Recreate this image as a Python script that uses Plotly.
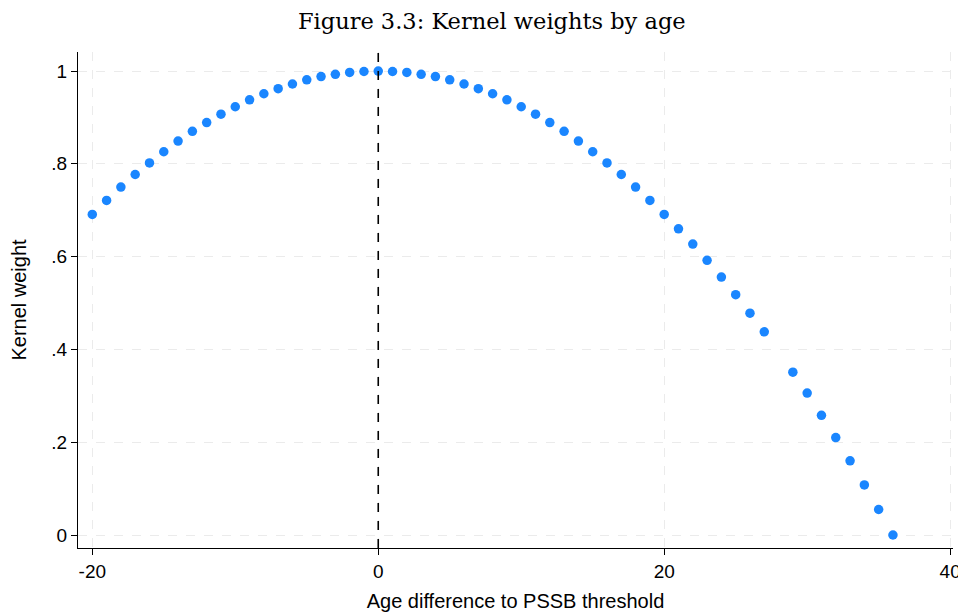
import plotly.graph_objects as go

age_diff = [-20, -19, -18, -17, -16, -15, -14, -13, -12, -11, -10, -9, -8, -7, -6, -5, -4, -3, -2, -1,
            0, 1, 2, 3, 4, 5, 6, 7, 8, 9, 10, 11, 12, 13, 14, 15, 16, 17, 18, 19, 20,
            21, 22, 23, 24, 25, 26, 27, 29, 30, 31, 32, 33, 34, 35, 36]
kernel_weight = [0.691, 0.721, 0.750, 0.777, 0.802, 0.826, 0.849, 0.870, 0.889, 0.907,
                 0.923, 0.938, 0.951, 0.962, 0.972, 0.981, 0.988, 0.993, 0.997, 0.999,
                 1.000, 0.999, 0.997, 0.993, 0.988, 0.981, 0.972, 0.962, 0.951, 0.938,
                 0.923, 0.907, 0.889, 0.870, 0.849, 0.826, 0.802, 0.777, 0.750, 0.721,
                 0.691, 0.660, 0.627, 0.592, 0.556, 0.518, 0.478, 0.438, 0.351, 0.306,
                 0.258, 0.210, 0.160, 0.108, 0.055, 0.000]

x_ticks = [-20, 0, 20, 40]
x_tick_labels = ["-20", "0", "20", "40"]
y_ticks = [0, 0.2, 0.4, 0.6, 0.8, 1.0]
y_tick_labels = ["0", ".2", ".4", ".6", ".8", "1"]
threshold = 0

fig = go.Figure()
fig.add_trace(go.Scatter(
    x=age_diff, y=kernel_weight, mode="markers",
    marker=dict(color="#1a86ff", size=9.5, line=dict(width=0)),
    showlegend=False,
))

fig.add_shape(type="line", x0=threshold, x1=threshold, xref="x", y0=0, y1=1, yref="paper",
              line=dict(color="black", width=1.6, dash="dash"))

tick_font = dict(family="Liberation Sans, Arial, sans-serif", size=19, color="black")
title_font = dict(family="Liberation Sans, Arial, sans-serif", size=20, color="black")

fig.update_layout(
    width=958, height=604,
    margin=dict(l=70, r=13, t=44, b=64, autoexpand=False),
    paper_bgcolor="white", plot_bgcolor="white",
    title=dict(text="Figure 3.3: Kernel weights by age", x=0.505, xanchor="center",
               y=0.991, yanchor="top", pad=dict(t=0, b=0),
               font=dict(family="DejaVu Serif, Liberation Serif, serif", size=22.5, color="black")),
    xaxis=dict(range=[-21, 40.2], tickvals=x_ticks, ticktext=x_tick_labels,
               showline=True, linecolor="black", linewidth=1.3, mirror=False,
               ticks="outside", ticklen=6, tickcolor="black", tickwidth=1,
               showgrid=True, gridcolor="#ebebeb", griddash="dash", gridwidth=1.3,
               zeroline=False, tickfont=tick_font, automargin=False,
               title=dict(text="Age difference to PSSB threshold", font=title_font, standoff=13)),
    yaxis=dict(range=[-0.028, 1.041], tickvals=y_ticks, ticktext=y_tick_labels,
               showline=True, linecolor="black", linewidth=1.3, mirror=False,
               ticks="outside", ticklen=6, tickcolor="black", tickwidth=1,
               showgrid=True, gridcolor="#ebebeb", griddash="dash", gridwidth=1.3,
               zeroline=False, tickfont=tick_font, automargin=False,
               title=dict(text="Kernel weight", font=title_font, standoff=20)),
)

fig.write_html("out.html")
